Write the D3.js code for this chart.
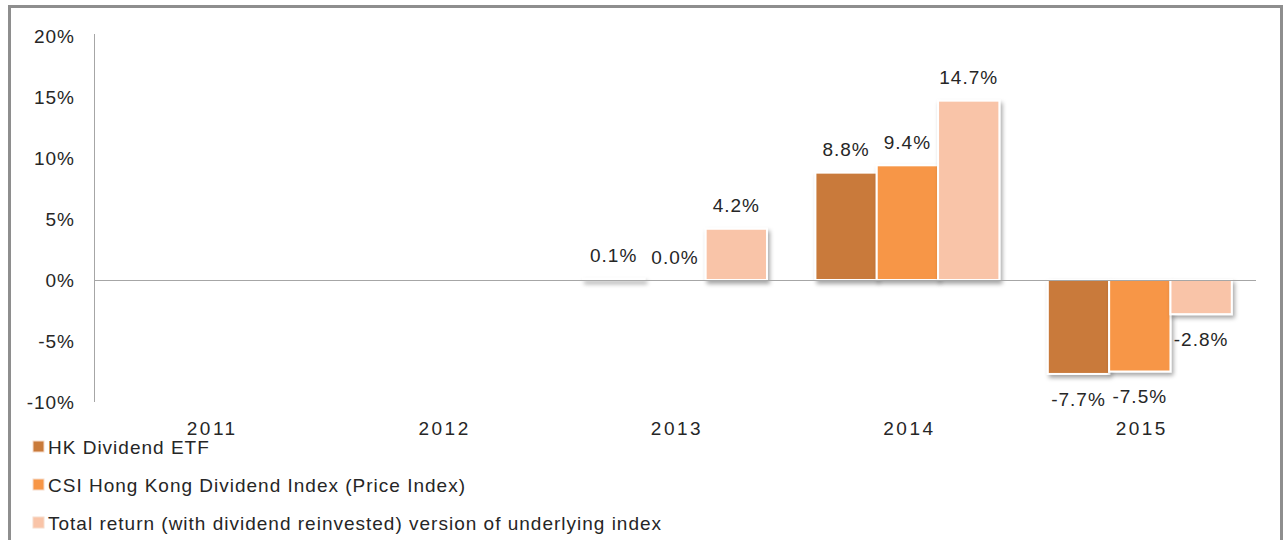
<!DOCTYPE html>
<html lang="en">
<head>
<meta charset="utf-8">
<script src="https://d3js.org/d3.v7.min.js"></script>
<style>
  body { margin: 0; background: #fff; }
  svg text { font-family: "Liberation Sans", Arial, sans-serif; fill: #262626; }
</style>
</head>
<body>
<script>
// chart data
var years = ['2011', '2012', '2013', '2014', '2015'];
var seriesNames = [
  'HK Dividend ETF',
  'CSI Hong Kong Dividend Index (Price Index)',
  'Total return (with dividend reinvested) version of underlying index'
];
var hkEtf = [null, null, 0.1, 8.8, -7.7];
var csiPrice = [null, null, 0.0, 9.4, -7.5];
var totalReturn = [null, null, 4.2, 14.7, -2.8];
var yTicks = [-10, -5, 0, 5, 10, 15, 20];
var colors = ['#C97A3A', '#F79646', '#F9C4A8'];

var width = 1285, height = 540;
var svg = d3.select('body').append('svg').attr('width', width).attr('height', height);

// shadow for bars
var defs = svg.append('defs');
defs.append('filter').attr('id', 'shadow')
  .attr('x', '-20%').attr('y', '-20%').attr('width', '150%').attr('height', '150%')
  .attr('filterUnits', 'userSpaceOnUse')
  .attr('x', 0).attr('y', 0).attr('width', width).attr('height', height)
  .append('feDropShadow')
  .attr('dx', 2).attr('dy', 3).attr('stdDeviation', 2)
  .attr('flood-color', '#000').attr('flood-opacity', 0.35);

// outer frame
svg.append('rect')
  .attr('x', 9.5).attr('y', 6.5).attr('width', 1272).attr('height', 545)
  .attr('fill', 'none').attr('stroke', '#8E8E8E').attr('stroke-width', 3);

var x = d3.scaleBand().domain(years).range([94, 1256]);
var xSub = d3.scaleBand().domain(d3.range(3)).range([0, x.bandwidth()]).paddingOuter(0.395);
var y = d3.scaleLinear().domain([-10, 20]).range([402, 36]);

// y axis line and labels
svg.append('line')
  .attr('x1', 94.5).attr('x2', 94.5).attr('y1', 34).attr('y2', 402)
  .attr('stroke', '#A6A6A6').attr('stroke-width', 1);
svg.selectAll('.ytick').data(yTicks).join('text')
  .attr('class', 'ytick')
  .attr('x', 75).attr('y', d => y(d)).attr('dy', '0.35em')
  .attr('text-anchor', 'end').attr('font-size', 19)
  .attr('letter-spacing', 1)
  .text(d => d + '%');

// bars
var series = [hkEtf, csiPrice, totalReturn];
series.forEach(function(vals, si) {
  var pts = years.map((yr, i) => ({ yr: yr, v: vals[i] })).filter(d => d.v !== null);
  svg.append('g').selectAll('rect').data(pts).join('rect')
    .attr('x', d => x(d.yr) + xSub(si))
    .attr('width', xSub.bandwidth())
    .attr('y', d => y(Math.max(0, d.v)))
    .attr('height', d => Math.abs(y(d.v) - y(0)))
    .attr('fill', colors[si])
    .attr('stroke', '#fff').attr('stroke-width', 2)
    .attr('filter', 'url(#shadow)');
  svg.append('g').selectAll('text').data(pts).join('text')
    .attr('x', d => x(d.yr) + xSub(si) + xSub.bandwidth() / 2)
    .attr('y', d => d.v >= 0 ? y(d.v) - 23 : y(d.v) + 25)
    .attr('dy', '0.35em')
    .attr('text-anchor', 'middle').attr('font-size', 19)
    .attr('letter-spacing', 1)
    .text(d => d.v.toFixed(1) + '%');
});

// zero line
svg.append('line')
  .attr('x1', 94).attr('x2', 1256).attr('y1', y(0) + 0.5).attr('y2', y(0) + 0.5)
  .attr('stroke', '#A6A6A6').attr('stroke-width', 1);

// category labels
svg.selectAll('.xlab').data(years).join('text')
  .attr('class', 'xlab')
  .attr('x', d => x(d) + x.bandwidth() / 2 + 2).attr('y', 428).attr('dy', '0.35em')
  .attr('text-anchor', 'middle').attr('font-size', 19)
  .attr('letter-spacing', 2.5)
  .text(d => d);

// legend
var legend = svg.append('g').selectAll('g').data(seriesNames).join('g')
  .attr('transform', (d, i) => 'translate(33,' + (447 + i * 38) + ')');
legend.append('rect')
  .attr('x', 0).attr('y', -6).attr('width', 11).attr('height', 11)
  .attr('fill', (d, i) => colors[i])
  .attr('stroke', '#F6DCCB').attr('stroke-width', 1);
legend.append('text')
  .attr('x', 15).attr('y', 0).attr('dy', '0.35em')
  .attr('font-size', 19)
  .attr('letter-spacing', 1)
  .text(d => d);
</script>
</body>
</html>
